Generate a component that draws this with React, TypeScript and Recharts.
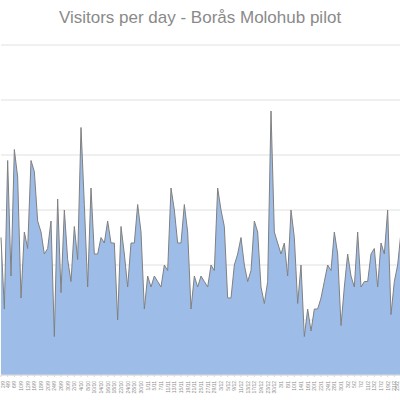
import React from 'react';
import { AreaChart, Area, XAxis, YAxis, CartesianGrid } from 'recharts';

// weekday dates shown on the category axis
const days = [
  '2/9', '3/9', '4/9', '5/9', '6/9', '9/9', '10/9', '11/9', '12/9', '13/9',
  '16/9', '17/9', '18/9', '19/9', '20/9', '23/9', '24/9', '25/9', '26/9', '27/9',
  '30/9', '1/10', '2/10', '3/10', '4/10', '7/10', '8/10', '9/10', '10/10', '11/10',
  '14/10', '15/10', '16/10', '17/10', '18/10', '21/10', '22/10', '23/10', '24/10', '25/10',
  '28/10', '29/10', '30/10', '31/10', '1/11', '4/11', '5/11', '6/11', '7/11', '8/11',
  '11/11', '12/11', '13/11', '14/11', '15/11', '18/11', '19/11', '20/11', '21/11', '22/11',
  '25/11', '26/11', '27/11', '28/11', '29/11', '2/12', '3/12', '4/12', '5/12', '6/12',
  '9/12', '10/12', '11/12', '12/12', '13/12', '16/12', '17/12', '18/12', '19/12', '20/12',
  '23/12', '27/12', '30/12', '2/1', '3/1', '7/1', '8/1', '9/1', '10/1', '13/1',
  '14/1', '15/1', '16/1', '17/1', '20/1', '21/1', '22/1', '23/1', '24/1', '27/1',
  '28/1', '29/1', '30/1', '31/1', '3/2', '4/2', '5/2', '6/2', '7/2', '10/2',
  '11/2', '12/2', '13/2', '14/2', '17/2', '18/2', '19/2', '20/2', '21/2', '24/2',
  '25/2',
];

const visitors = [
  25, 12, 39, 18, 41, 36, 14, 26, 23, 39,
  37, 28, 26, 22, 23, 28, 7, 32, 15, 30,
  21, 17, 27, 21, 45, 31, 16, 34, 22, 22,
  25, 24, 28, 24, 24, 10, 27, 22, 16, 24,
  24, 31, 26, 12, 18, 16, 18, 17, 16, 20,
  19, 34, 30, 24, 24, 31, 26, 12, 18, 16,
  18, 17, 16, 20, 19, 34, 30, 27, 14, 14,
  20, 22, 25, 20, 17, 19, 28, 26, 16, 13,
  17, 48, 26, 24, 22, 24, 18, 30, 25, 13,
  20, 7, 12, 8, 12, 12, 14, 17, 20, 19,
  26, 22, 9, 16, 22, 18, 16, 26, 16, 17,
  17, 22, 23, 16, 24, 22, 30, 11, 17, 20,
  26,
];

const yTicks = [0, 10, 20, 30, 40, 50, 60];

const data = days.map((d, i) => ({ day: d, visitors: visitors[i] }));

const DayTick = (props: any) => {
  const { y, payload } = props;
  // keep the edge labels inside the visible frame
  const x = Math.min(Math.max(props.x, 3), 397);
  return (
    <text
      x={x}
      y={y + 2}
      transform={`rotate(-90, ${x}, ${y + 2})`}
      textAnchor="end"
      dominantBaseline="central"
      fontSize={5}
      fill="#8c8c8c"
    >
      {payload.value}
    </text>
  );
};

export default function App() {
  return (
    <div
      style={{
        position: 'absolute',
        left: 0,
        top: 0,
        width: 400,
        height: 400,
        overflow: 'hidden',
        background: '#fff',
        fontFamily: '"Liberation Sans", Arial, sans-serif',
      }}
    >
      <div
        style={{
          position: 'absolute',
          top: 8,
          left: 0,
          width: 400,
          textAlign: 'center',
          fontSize: 17,
          color: '#8a8a8a',
        }}
      >
        Visitors per day - Borås Molohub pilot
      </div>
      <AreaChart
        width={410}
        height={400}
        data={data}
        margin={{ top: 45, right: 9, left: 1, bottom: 0 }}
      >
        <CartesianGrid vertical={false} stroke="#e0e0e0" />
        <XAxis
          dataKey="day"
          height={25}
          interval={1}
          tick={<DayTick />}
          tickSize={2}
          axisLine={{ stroke: '#d9d9d9' }}
          tickLine={{ stroke: '#d9d9d9' }}
        />
        <YAxis hide domain={[0, 60]} ticks={yTicks} />
        <Area
          type="linear"
          dataKey="visitors"
          stroke="#808080"
          strokeWidth={1}
          fill="#9dbde8"
          fillOpacity={1}
          isAnimationActive={false}
        />
      </AreaChart>
    </div>
  );
}
